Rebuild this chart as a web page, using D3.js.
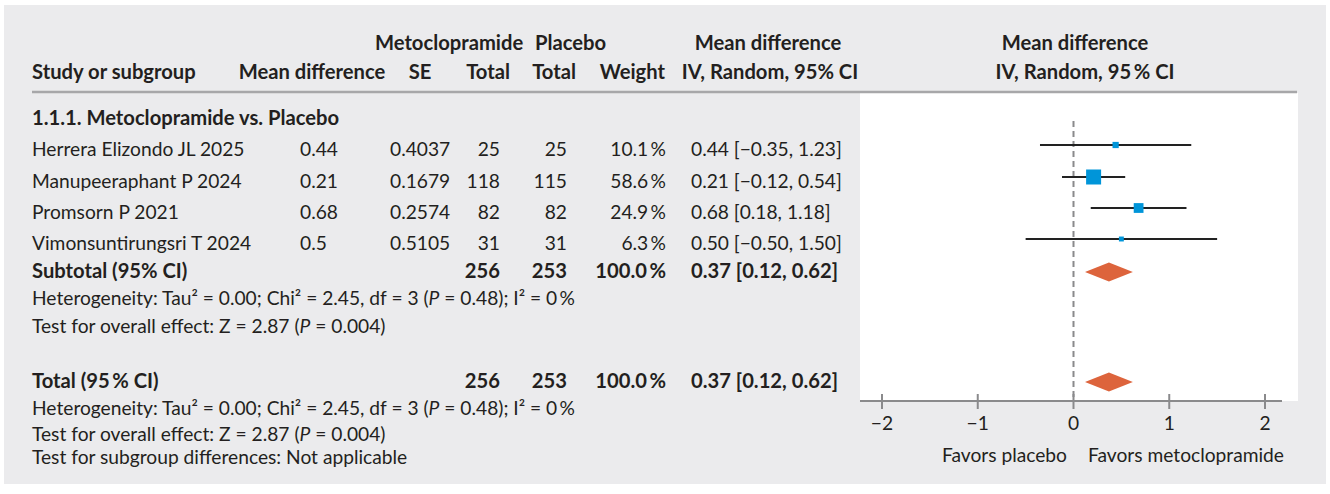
<!DOCTYPE html>
<html>
<head>
<meta charset="utf-8">
<script src="https://cdn.jsdelivr.net/npm/d3@7"></script>
<style>
  body { margin: 0; background: #fff; }
  svg text { font-family: Lato, "Open Sans", sans-serif; fill: #231f20; }
</style>
</head>
<body>
<div id="chart"></div>
<script>
// ---------------- data ----------------
const studies = ["Herrera Elizondo JL 2025", "Manupeeraphant P 2024", "Promsorn P 2021", "Vimonsuntirungsri T 2024"];
const meanDiff = [0.44, 0.21, 0.68, 0.5];
const meanDiffText = ["0.44", "0.21", "0.68", "0.5"];
const seText = ["0.4037", "0.1679", "0.2574", "0.5105"];
const metoTotal = [25, 118, 82, 31];
const placeboTotal = [25, 115, 82, 31];
const weight = [10.1, 58.6, 24.9, 6.3];
const ciLow = [-0.35, -0.12, 0.18, -0.50];
const ciHigh = [1.23, 0.54, 1.18, 1.50];

const pooledLabels = ["Subtotal (95% CI)", "Total (95\u2009% CI)"];
const pooledEst = [0.37, 0.37];
const pooledLow = [0.12, 0.12];
const pooledHigh = [0.62, 0.62];
const pooledMeto = [256, 256];
const pooledPlacebo = [253, 253];
const pooledWeight = [100.0, 100.0];

const xTicks = [-2, -1, 0, 1, 2];

// ---------------- layout ----------------
const W = 1330, H = 494;
const FS = 19.2, FSB = 20.2;
const studyRowY = [149, 181, 212, 243];   // text centre of study rows
const pooledRowY = [271, 381];
const col = { study: 32, md: 300, se: 390, meto: 500, plac: 567, weight: 666, ci: 691 };

const svg = d3.select("#chart").append("svg")
  .attr("width", W).attr("height", H);

// grey panel
svg.append("rect")
  .attr("x", 4).attr("y", 5).attr("width", 1322).attr("height", 479)
  .attr("fill", "#ebebed");

// white plot area
svg.append("rect")
  .attr("x", 860).attr("y", 93).attr("width", 438).attr("height", 308)
  .attr("fill", "#fff");

// header rule
svg.append("line")
  .attr("x1", 32).attr("x2", 1297).attr("y1", 92).attr("y2", 92)
  .attr("stroke", "#a7a7a9").attr("stroke-width", 2.5);

function txt(x, y, s, opts = {}) {
  const t = svg.append("text")
    .attr("x", x).attr("y", y + 6.5)
    .attr("font-size", opts.bold ? FSB : FS)
    .attr("font-weight", opts.bold ? "bold" : "normal")
    .attr("text-anchor", opts.anchor || "start");
  if (Array.isArray(s)) {
    s.forEach(p => {
      const sp = t.append("tspan").text(p.t);
      if (p.i) sp.attr("font-style", "italic");
    });
  } else t.text(s);
  return t;
}

// ---------------- header ----------------
txt(375, 43, "Metoclopramide", { bold: true });
txt(535, 43, "Placebo", { bold: true });
txt(768, 43, "Mean difference", { bold: true, anchor: "middle" });
txt(1075, 43, "Mean difference", { bold: true, anchor: "middle" });

txt(col.study, 72, "Study or subgroup", { bold: true });
txt(312, 72, "Mean difference", { bold: true, anchor: "middle" });
txt(420, 72, "SE", { bold: true, anchor: "middle" });
txt(510, 72, "Total", { bold: true, anchor: "end" });
txt(576, 72, "Total", { bold: true, anchor: "end" });
txt(665, 72, "Weight", { bold: true, anchor: "end" });
txt(770, 72, "IV, Random, 95% CI", { bold: true, anchor: "middle" });
txt(1085, 72, "IV, Random, 95\u2009% CI", { bold: true, anchor: "middle" });

txt(col.study, 118, "1.1.1. Metoclopramide vs. Placebo", { bold: true });

// ---------------- study rows ----------------
const fmt = d3.format(".2f");
const fmtCI = v => fmt(v).replace("-", "\u2212");

studies.forEach((s, i) => {
  const y = studyRowY[i];
  txt(col.study, y, s);
  txt(col.md, y, meanDiffText[i]);
  txt(col.se, y, seText[i]);
  txt(col.meto, y, metoTotal[i], { anchor: "end" });
  txt(col.plac, y, placeboTotal[i], { anchor: "end" });
  txt(col.weight, y, d3.format(".1f")(weight[i]) + "\u2009%", { anchor: "end" });
  txt(col.ci, y, `${fmt(meanDiff[i])} [${fmtCI(ciLow[i])}, ${fmtCI(ciHigh[i])}]`);
});

// ---------------- pooled rows ----------------
pooledLabels.forEach((lab, i) => {
  const y = pooledRowY[i];
  txt(col.study, y, lab, { bold: true });
  txt(col.meto, y, pooledMeto[i], { bold: true, anchor: "end" });
  txt(col.plac, y, pooledPlacebo[i], { bold: true, anchor: "end" });
  txt(col.weight, y, d3.format(".1f")(pooledWeight[i]) + "\u2009%", { bold: true, anchor: "end" });
  txt(col.ci, y, `${fmt(pooledEst[i])} [${fmtCI(pooledLow[i])}, ${fmtCI(pooledHigh[i])}]`, { bold: true });
});

const het = [{ t: "Heterogeneity: Tau\u00b2 = 0.00; Chi\u00b2 = 2.45, df = 3 (" }, { t: "P", i: true }, { t: " = 0.48); I\u00b2 = 0\u2009%" }];
const overall = [{ t: "Test for overall effect: Z = 2.87 (" }, { t: "P", i: true }, { t: " = 0.004)" }];
txt(col.study, 298, het);
txt(col.study, 326, overall);
txt(col.study, 408, het);
txt(col.study, 434, overall);
txt(col.study, 457, "Test for subgroup differences: Not applicable");

// ---------------- forest plot ----------------
const x = d3.scaleLinear().domain([-2, 2]).range([882, 1265]);
const axisY = 401;

// zero line
svg.append("line")
  .attr("x1", x(0)).attr("x2", x(0)).attr("y1", 121).attr("y2", axisY)
  .attr("stroke", "#8a8a8c").attr("stroke-width", 2).attr("stroke-dasharray", "6,4");

// axis
svg.append("line")
  .attr("x1", 860).attr("x2", 1282).attr("y1", axisY).attr("y2", axisY)
  .attr("stroke", "#8a8a8c").attr("stroke-width", 2);
svg.selectAll(".tick").data(xTicks).join("line")
  .attr("x1", d => x(d)).attr("x2", d => x(d))
  .attr("y1", axisY - 7).attr("y2", axisY + 8)
  .attr("stroke", "#8a8a8c").attr("stroke-width", 2);
svg.selectAll(".ticklab").data(xTicks).join("text")
  .attr("x", d => x(d)).attr("y", 430)
  .attr("text-anchor", "middle").attr("font-size", FS)
  .text(d => d < 0 ? "\u2212" + Math.abs(d) : d);

txt(1067, 455, "Favors placebo", { anchor: "end" });
txt(1088, 455, "Favors metoclopramide");

// CI lines + squares
const markerY = studyRowY.map(y => y - 4);
const maxW = d3.max(weight);
const size = d3.scaleSqrt().domain([0, maxW]).range([0, 15]);

svg.selectAll(".ci").data(studies).join("line")
  .attr("x1", (d, i) => x(ciLow[i])).attr("x2", (d, i) => x(ciHigh[i]))
  .attr("y1", (d, i) => markerY[i]).attr("y2", (d, i) => markerY[i])
  .attr("stroke", "#222").attr("stroke-width", 2.2);

svg.selectAll(".sq").data(studies).join("rect")
  .attr("x", (d, i) => x(meanDiff[i]) - size(weight[i]) / 2)
  .attr("y", (d, i) => markerY[i] - size(weight[i]) / 2)
  .attr("width", (d, i) => size(weight[i]))
  .attr("height", (d, i) => size(weight[i]))
  .attr("fill", "#0095d9");

// diamonds
const diamondY = pooledRowY.map(y => y + 1);
svg.selectAll(".dia").data(pooledLabels).join("path")
  .attr("d", (d, i) => {
    const y = diamondY[i];
    return `M${x(pooledLow[i])},${y}L${x(pooledEst[i])},${y - 9.5}L${x(pooledHigh[i])},${y}L${x(pooledEst[i])},${y + 9.5}Z`;
  })
  .attr("fill", "#dd643c");
</script>
</body>
</html>
